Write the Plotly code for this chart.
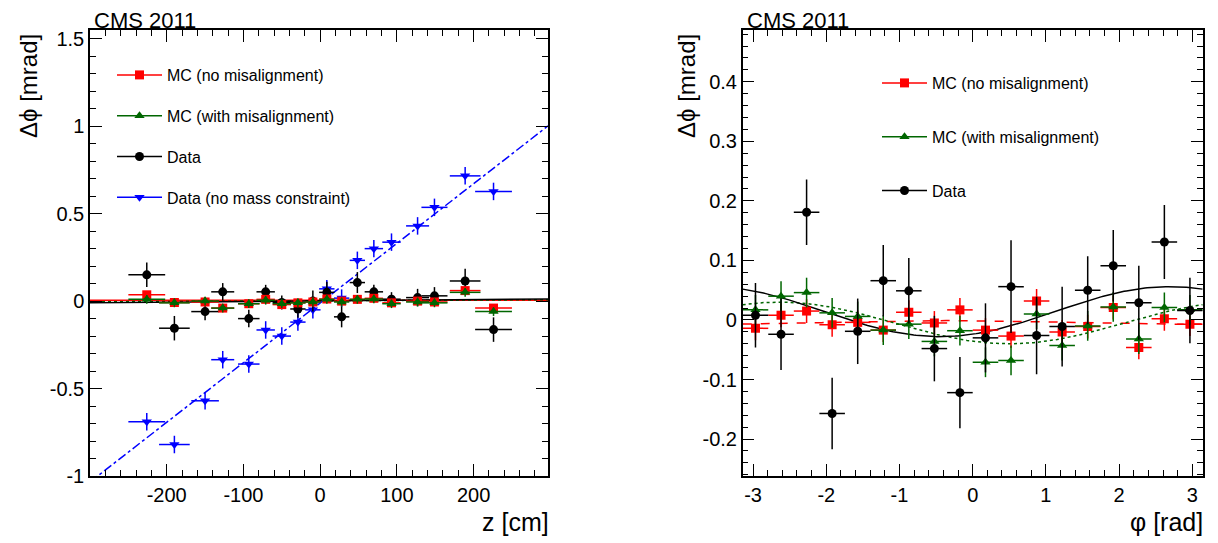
import numpy as np
import plotly.graph_objects as go

# ---------- left panel data ----------
z_centers = [-226, -190, -150, -127, -93, -71, -50, -29, -9.5, 8.7, 28, 48.5, 70, 93, 127, 149, 189, 226]
z_halfw = [24, 20, 18, 15, 14, 12, 12, 10, 10, 10, 10, 10, 12, 12, 15, 17, 20, 24]
mc_nomis_z = [0.036, -0.008, -0.005, -0.04, -0.015, 0.01, -0.02, -0.01, -0.005, 0.012, 0.0, 0.01, 0.016, -0.01, 0.0, -0.005, 0.06, -0.04]
mc_nomis_z_err = [0.02] * 18
mc_mis_z = [0.01, -0.01, 0.0, -0.04, -0.015, 0.005, -0.015, -0.01, -0.005, 0.01, -0.005, 0.01, 0.012, -0.015, -0.005, -0.01, 0.05, -0.06]
mc_mis_z_err = [0.025] * 18
data_z = [0.15, -0.155, -0.06, 0.053, -0.10, 0.053, -0.008, -0.045, 0.0, 0.05, -0.09, 0.106, 0.053, 0.011, 0.02, 0.03, 0.115, -0.163]
data_z_err = [0.07, 0.07, 0.05, 0.05, 0.05, 0.04, 0.04, 0.05, 0.06, 0.06, 0.06, 0.06, 0.04, 0.04, 0.05, 0.05, 0.07, 0.07]
datanmc_z = [-0.69, -0.82, -0.57, -0.335, -0.36, -0.165, -0.20, -0.12, -0.05, 0.07, 0.017, 0.233, 0.30, 0.337, 0.43, 0.536, 0.716, 0.627]
datanmc_z_err = [0.05] * 18
fit_z = {"nomis": (0.005, 0.0), "mis": (0.002, 0.00002), "data": (0.001, 0.000037), "datanmc": (-0.011, 0.00341)}

# ---------- right panel data ----------
nb = 18
phi_centers = [-np.pi + (i + 0.5) * 2 * np.pi / nb for i in range(nb)]
phi_halfw = [np.pi / nb] * nb
mc_nomis_phi = [-0.014, 0.008, 0.015, -0.008, -0.004, -0.017, 0.013, -0.005, 0.017, -0.017, -0.027, 0.032, -0.02, -0.011, 0.021, -0.046, 0.002, -0.007]
mc_nomis_phi_err = [0.02] * nb
mc_mis_phi = [0.017, 0.04, 0.046, 0.012, 0.006, -0.017, -0.007, -0.036, -0.018, -0.071, -0.068, 0.01, -0.043, -0.01, 0.022, -0.032, 0.021, 0.017]
mc_mis_phi_err = [0.025] * nb
data_phi = [0.008, -0.024, 0.181, -0.157, -0.019, 0.066, 0.049, -0.048, -0.122, -0.03, 0.056, -0.026, -0.011, 0.05, 0.091, 0.029, 0.131, 0.016]
data_phi_err = [0.054, 0.06, 0.055, 0.06, 0.055, 0.06, 0.055, 0.055, 0.06, 0.058, 0.078, 0.065, 0.067, 0.057, 0.06, 0.062, 0.062, 0.055]
fit_phi = {"nomis": (-0.004, 0.003, 2.8), "mis": (-0.005, 0.035, 0.5), "data": (0.014, 0.042, -0.45)}

RED, GREEN, BLACK, BLUE = "#ff0000", "#006600", "#000000", "#0000ff"
FONT = "Liberation Sans, Arial, sans-serif"

W, H, OFF = 1210, 535, 8
TOP, BOT = 30 - OFF, 476 - OFF
def px(x):
    return (x - OFF) / W
def py(y):
    return (BOT - (y - OFF)) / (BOT - TOP)

fig = go.Figure()

def pts(x, y, xe, ye, color, symbol, xa, ya, size=9):
    fig.add_trace(go.Scatter(
        x=x, y=y, mode="markers", xaxis=xa, yaxis=ya,
        marker=dict(color=color, symbol=symbol, size=size),
        error_x=dict(type="data", array=xe, color=color, width=0, thickness=1.5),
        error_y=dict(type="data", array=ye, color=color, width=0, thickness=1.5),
        showlegend=False))

def legend_entry(color, symbol, name, legend, group, size=9):
    fig.add_trace(go.Scatter(x=[None], y=[None], mode="lines+markers", name=name,
                             legend=legend, legendgroup=group,
                             line=dict(color=color, width=1.5),
                             marker=dict(color=color, symbol=symbol, size=size)))

zline = np.array([-300, 297])
for key, col, dash in [("nomis", RED, "solid"), ("mis", GREEN, "dot"),
                       ("data", BLACK, "solid"), ("datanmc", BLUE, "dashdot")]:
    c, s = fit_z[key]
    fig.add_trace(go.Scatter(x=zline, y=c + s * zline, mode="lines", xaxis="x", yaxis="y",
                             line=dict(color=col, dash=dash, width=1.5), showlegend=False))

pts(z_centers, datanmc_z, z_halfw, datanmc_z_err, BLUE, "triangle-down", "x", "y")
pts(z_centers, data_z, z_halfw, data_z_err, BLACK, "circle", "x", "y")
pts(z_centers, mc_nomis_z, z_halfw, mc_nomis_z_err, RED, "square", "x", "y")
pts(z_centers, mc_mis_z, z_halfw, mc_mis_z_err, GREEN, "triangle-up", "x", "y")

philine = np.linspace(-np.pi, np.pi, 200)
for key, col, dash in [("nomis", RED, "dash"), ("mis", GREEN, "dot"), ("data", BLACK, "solid")]:
    c, a, p = fit_phi[key]
    fig.add_trace(go.Scatter(x=philine, y=c - a * np.cos(philine - p), mode="lines", xaxis="x2", yaxis="y2",
                             line=dict(color=col, dash=dash, width=1.5), showlegend=False))

pts(phi_centers, mc_nomis_phi, phi_halfw, mc_nomis_phi_err, RED, "square", "x2", "y2")
pts(phi_centers, mc_mis_phi, phi_halfw, mc_mis_phi_err, GREEN, "triangle-up", "x2", "y2")
pts(phi_centers, data_phi, phi_halfw, data_phi_err, BLACK, "circle", "x2", "y2")

legend_entry(RED, "square", "MC (no misalignment)", "legend", "a")
legend_entry(GREEN, "triangle-up", "MC (with misalignment)", "legend", "b")
legend_entry(BLACK, "circle", "Data", "legend", "c")
legend_entry(BLUE, "triangle-down", "Data (no mass constraint)", "legend", "d")
legend_entry(RED, "square", "MC (no misalignment)", "legend2", "e")
legend_entry(GREEN, "triangle-up", "MC (with misalignment)", "legend2", "f")
legend_entry(BLACK, "circle", "Data", "legend2", "g")

ax_common = dict(showline=True, linecolor="black", linewidth=1.5, mirror="allticks",
                 ticks="inside", ticklen=12, tickwidth=1, tickcolor="black",
                 showgrid=False, zeroline=False,
                 tickfont=dict(family=FONT, size=20, color="black"),
                 minor=dict(ticks="inside", ticklen=6, tickcolor="black", showgrid=False))

fig.update_layout(
    width=W, height=H, paper_bgcolor="white", plot_bgcolor="white",
    margin=dict(l=0, r=0, t=TOP, b=H - BOT),
    font=dict(family=FONT, color="black"),
    xaxis=dict(domain=[px(90), px(548)], range=[-300, 297], tickvals=[-200, -100, 0, 100, 200],
               ticktext=["-200", "-100", "0", "100", "200"], minor_dtick=20, **ax_common),
    yaxis=dict(domain=[0, 1], range=[-1, 1.55], anchor="x", tickvals=[-1, -0.5, 0, 0.5, 1, 1.5],
               ticktext=["-1", "-0.5", "0", "0.5", "1", "1.5"], minor_dtick=0.1, **ax_common),
    xaxis2=dict(domain=[px(742.7), px(1202.7)], range=[-np.pi, np.pi], anchor="y2",
                tickvals=[-3, -2, -1, 0, 1, 2, 3], ticktext=["-3", "-2", "-1", "0", "1", "2", "3"],
                minor_dtick=0.2, **ax_common),
    yaxis2=dict(domain=[0, 1], range=[-0.262, 0.487], anchor="x2",
                tickvals=[-0.2, -0.1, 0, 0.1, 0.2, 0.3, 0.4],
                ticktext=["-0.2", "-0.1", "0", "0.1", "0.2", "0.3", "0.4"], minor_dtick=0.02, **ax_common),
    legend=dict(x=px(112), y=py(58), xanchor="left", yanchor="top",
                bgcolor="rgba(0,0,0,0)", font=dict(family=FONT, size=16, color="black"),
                tracegroupgap=17, itemwidth=45),
    legend2=dict(x=px(877), y=py(66), xanchor="left", yanchor="top",
                 bgcolor="rgba(0,0,0,0)", font=dict(family=FONT, size=16, color="black"),
                 tracegroupgap=30, itemwidth=45),
    annotations=[
        dict(text="CMS 2011", x=px(92), y=py(30), xref="paper", yref="paper", xanchor="left", yanchor="bottom",
             showarrow=False, font=dict(size=22, family=FONT), yshift=-5),
        dict(text="CMS 2011", x=px(745), y=py(30), xref="paper", yref="paper", xanchor="left", yanchor="bottom",
             showarrow=False, font=dict(size=22, family=FONT), yshift=-5),
        dict(text="Δϕ [mrad]", x=px(28), y=py(32), xref="paper", yref="paper", xanchor="center", yanchor="top",
             textangle=-90, showarrow=False, font=dict(size=24, family=FONT)),
        dict(text="Δϕ [mrad]", x=px(686), y=py(32), xref="paper", yref="paper", xanchor="center", yanchor="top",
             textangle=-90, showarrow=False, font=dict(size=24, family=FONT)),
        dict(text="z [cm]", x=px(551), y=py(506), xref="paper", yref="paper", xanchor="right", yanchor="top",
             showarrow=False, font=dict(size=25, family=FONT)),
        dict(text="φ [rad]", x=px(1205), y=py(506), xref="paper", yref="paper", xanchor="right", yanchor="top",
             showarrow=False, font=dict(size=25, family=FONT)),
    ],
)

fig.write_html("out.html")
